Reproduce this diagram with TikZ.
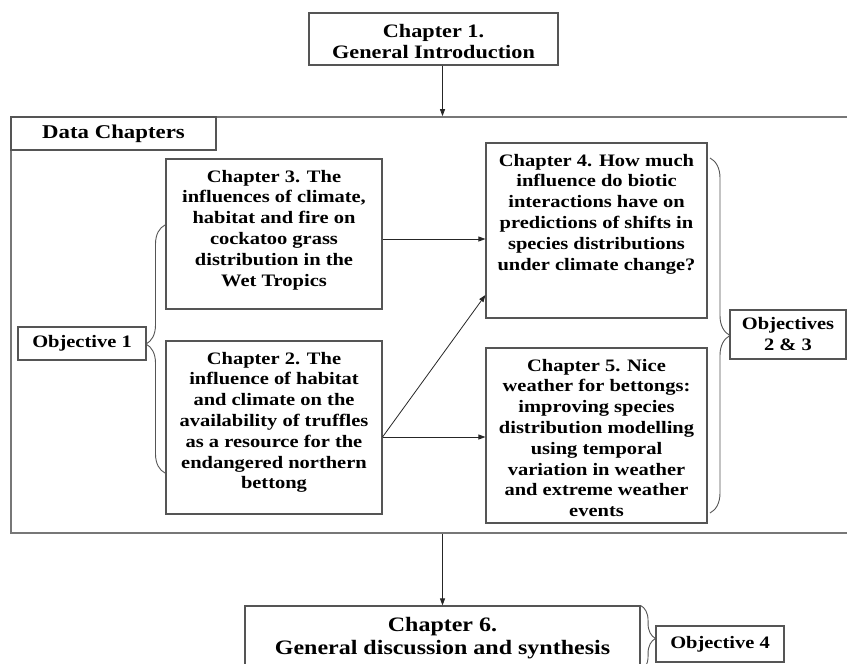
\documentclass[tikz,border=0pt]{standalone}
\usepackage{fontspec}
\setmainfont{Liberation Serif}[FakeStretch=1.17]
\usepackage{tikz}
\usepackage{xcolor}
\usetikzlibrary{arrows.meta,positioning,calc,decorations.pathreplacing}
\definecolor{LineGray}{HTML}{555555}

% text pinned to the top of a fixed size box
\newcommand{\boxtext}[3]{\parbox[c][#2][t]{#1}{\centering\vspace*{11pt}#3\par}}

\tikzset{
  chbox/.style={draw=LineGray, line width=1.1pt, inner sep=0pt, font=\bfseries\fontsize{17.5}{20.8}\selectfont},
  objbox/.style={draw=LineGray, line width=1.1pt, inner sep=0pt, align=center, font=\bfseries\fontsize{17.5}{21}\selectfont},
  arr/.style={-{Triangle[length=7pt,width=5pt]}, line width=0.8pt, draw=black!85},
  objbrace/.style={decorate, decoration={brace, amplitude=#1}, draw=LineGray, line width=0.9pt},
  objbrace/.default=15pt
}

\begin{document}
\begin{tikzpicture}[x=1pt,y=-1pt]
  \path[use as bounding box, clip] (0,0) rectangle (847,664);

  \node[chbox, font=\bfseries\fontsize{19}{21}\selectfont] (ch1) at (433.5,39)
    {\boxtext{249pt}{52pt}{Chapter 1.\\General Introduction}};

  % data chapters frame
  \node[draw=LineGray!80, line width=1.6pt, minimum width=849pt, minimum height=416pt, inner sep=0pt] (datafr) at (435.5,325) {};
  \node[objbox, font=\bfseries\fontsize{19.5}{21}\selectfont, minimum width=205pt, minimum height=33pt] (datalbl) at (113.5,133.5) {Data Chapters};

  \node[chbox] (ch3) at (274,234)
    {\boxtext{216pt}{150pt}{Chapter 3. The\\influences of climate,\\habitat and fire on\\cockatoo grass\\distribution in the\\Wet Tropics}};
  \node[chbox] (ch2) at (274,427.5)
    {\boxtext{216pt}{173pt}{Chapter 2. The\\influence of habitat\\and climate on the\\availability of truffles\\as a resource for the\\endangered northern\\bettong}};
  \node[chbox] (ch4) at (596.5,230.5)
    {\boxtext{221pt}{175pt}{Chapter 4. How much\\influence do biotic\\interactions have on\\predictions of shifts in\\species distributions\\under climate change?}};
  \node[chbox] (ch5) at (596.5,435.5)
    {\boxtext{221pt}{175pt}{Chapter 5. Nice\\weather for bettongs:\\improving species\\distribution modelling\\using temporal\\variation in weather\\and extreme weather\\events}};

  \node[objbox, minimum width=128pt, minimum height=33pt] (obj1) at (82,343.5) {Objective 1};
  \node[objbox, minimum width=116pt, minimum height=49pt] (obj23) at (788,334.5) {Objectives\\2 \& 3};

  \node[chbox, font=\bfseries\fontsize{20.5}{23}\selectfont] (ch6) at (442.5,646)
    {\boxtext{395pt}{80pt}{Chapter 6.\\General discussion and synthesis}};
  \node[objbox, minimum width=128pt, minimum height=36pt] (obj4) at (720,644) {Objective 4};

  % arrows
  \draw[arr] (ch1.south -| ch6.north) -- (datafr.north -| ch6.north);
  \draw[arr] ([yshift=-5pt]ch3.east) -- ([yshift=-5pt]ch3.east -| ch4.west);
  \draw[arr] ([yshift=-9.5pt]ch2.east) -- ([yshift=-64.5pt]ch4.west);
  \draw[arr] ([yshift=-9.5pt]ch2.east) -- ([yshift=-9.5pt]ch2.east -| ch5.west);
  \draw[arr] (datafr.south -| ch6.north) -- (ch6.north);

  % braces
  \coordinate (o1bot) at (165,473);
  \coordinate (o1top) at (165,225);
  \coordinate (o2top) at (710,158);
  \coordinate (o2bot) at (710,513);
  \draw[objbrace=19pt, decoration={aspect=0.52}] (o1bot) -- (o1top);
  \draw[objbrace=20pt] (o2top) -- (o2bot);
  \draw[objbrace] (ch6.north east) -- ++(0,66);
\end{tikzpicture}
\end{document}
